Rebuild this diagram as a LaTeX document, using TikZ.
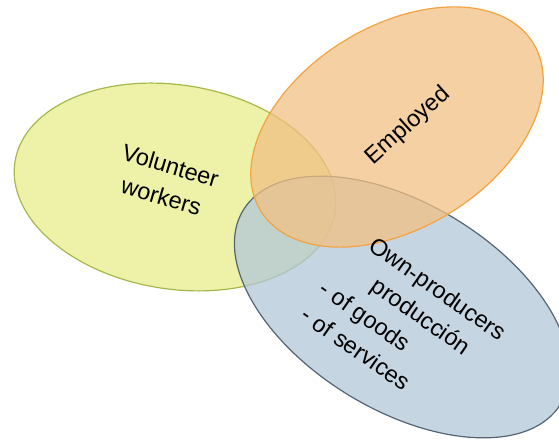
\documentclass[tikz,border=0pt]{standalone}
\usepackage{fontspec}
\setmainfont{Liberation Sans}
\usetikzlibrary{shapes.geometric}
\definecolor{volfill}{RGB}{238,242,168}
\definecolor{volline}{RGB}{166,184,74}
\definecolor{ownfill}{RGB}{178,199,216}
\definecolor{ownline}{RGB}{84,100,116}
\definecolor{empfill}{RGB}{242,192,131}
\definecolor{empline}{RGB}{245,163,64}
\begin{document}
\begin{tikzpicture}[x=1pt,y=1pt,
  blob/.style={ellipse,draw,line width=1.2pt,inner sep=0pt},
  lbl/.style={font=\fontsize{23.5}{32}\selectfont,inner sep=0pt}]
\clip (0,0) rectangle (559,444);
\node[blob,fill=volfill,draw=volline,minimum width=324pt,minimum height=204pt,rotate=-9] at (175,257) (volset) {};
\node[blob,fill=ownfill,fill opacity=.75,draw=ownline,minimum width=372pt,minimum height=206pt,rotate=-31.4] at (402,137) (ownset) {};
\node[blob,fill=empfill,fill opacity=.75,draw=empline,minimum width=320pt,minimum height=202pt,rotate=31.6] at (397,317) (empset) {};

\node[lbl,align=center,rotate=-16.5] at (166,263) (vol) {Volunteer\\workers};
\node[lbl,rotate=42] at (408,318) (emp) {Employed};
\node[lbl,align=left,anchor=north west,rotate=-35] at (364,218) (own) {\hspace*{16pt}Own-producers\\\hspace*{41pt}producción\\- of goods\\- of services};
\end{tikzpicture}
\end{document}
